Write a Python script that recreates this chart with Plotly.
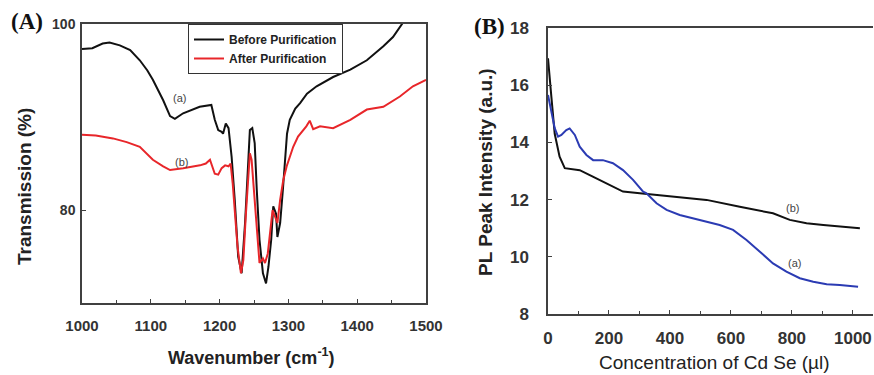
import plotly.graph_objects as go

W, H = 874, 375

# ---------------- Panel A data (FTIR) ----------------
wn_before = [1000, 1015, 1030, 1040, 1055, 1070, 1084, 1095, 1103, 1118, 1128, 1135, 1147, 1160,
             1171, 1188, 1193, 1198, 1203, 1205, 1209, 1213, 1217.5, 1222, 1227, 1232, 1237,
             1242, 1244, 1247.5, 1251, 1254, 1258, 1263, 1267.5, 1271, 1275, 1278, 1282, 1284,
             1288, 1292, 1295, 1298, 1302, 1310, 1317, 1327, 1341, 1365, 1390, 1414, 1438,
             1452, 1467, 1480]
t_before = [97.3, 97.4, 97.9, 98.0, 97.7, 97.2, 96.1, 95.0, 94.0, 91.8, 90.1, 89.8, 90.4, 90.8,
            91.1, 91.3, 89.7, 88.6, 88.4, 88.2, 89.3, 88.8, 85.7, 81.1, 75.0, 73.2, 78.6,
            85.7, 88.6, 88.8, 87.2, 82.2, 76.8, 73.2, 72.1, 73.9, 76.8, 80.4, 79.6, 77.1,
            78.6, 82.2, 85.7, 88.2, 89.7, 90.9, 91.5, 92.5, 93.3, 94.3, 95.1, 96.1, 97.6,
            98.6, 100.2, 101.5]

wn_after = [1000, 1020, 1045, 1065, 1084, 1103, 1118, 1128, 1147, 1171.5, 1180, 1186, 1193,
            1198, 1203, 1208, 1213, 1216, 1219, 1222, 1226, 1231, 1234.5, 1238, 1242, 1244,
            1246.5, 1250, 1254, 1258, 1263, 1266, 1270, 1273, 1277, 1280.5, 1284, 1288,
            1292.5, 1297.5, 1302, 1307, 1314, 1322, 1326, 1331, 1336, 1346, 1365, 1390, 1414,
            1438, 1462, 1481, 1500]
t_after = [88.1, 88.0, 87.7, 87.3, 86.8, 85.4, 84.7, 84.3, 84.5, 84.8, 85.0, 85.4, 83.9,
           83.8, 84.5, 84.8, 84.7, 85.0, 82.9, 79.6, 76.1, 73.2, 74.6, 79.3, 84.3, 86.1,
           85.4, 82.2, 77.8, 74.3, 74.8, 74.3, 75.3, 77.5, 80.0, 79.3, 78.6, 81.1,
           83.2, 84.7, 85.7, 86.8, 87.9, 88.6, 89.0, 89.6, 88.7, 89.0, 88.8, 89.7, 90.8,
           91.1, 92.2, 93.3, 94.0]

# ---------------- Panel B data (PL) ----------------
conc_b = [0, 5, 11, 22, 38, 55, 104, 147, 192, 246, 301, 356, 410, 520, 629, 738, 793, 848,
          903, 957, 1023]
pl_b = [16.94, 16.2, 15.6, 14.3, 13.5, 13.1, 13.03, 12.8, 12.57, 12.28, 12.22, 12.16, 12.12,
        11.99, 11.75, 11.52, 11.29, 11.17, 11.11, 11.05, 11.0]

conc_a = [0, 11, 22, 33, 44, 60, 71, 88, 104, 126, 148, 180, 213, 246, 279, 312, 323, 356,
          389, 432, 498, 563, 607, 651, 695, 738, 782, 826, 870, 914, 957, 1017]
pl_a = [15.66, 15.13, 14.5, 14.2, 14.26, 14.43, 14.49, 14.26, 13.85, 13.56, 13.38, 13.38,
        13.27, 13.03, 12.69, 12.28, 12.22, 11.87, 11.64, 11.46, 11.29, 11.11, 10.94, 10.59,
        10.18, 9.77, 9.48, 9.25, 9.13, 9.04, 9.01, 8.95]

# ---------------- figure ----------------
def px_x(p):
    return p / W

def px_y(p):
    return 1 - p / H

BLACK = "#111111"
RED = "#e8262a"
BLUE = "#2b3bb3"
AX = "#404040"
SANS = "Liberation Sans, Arial, sans-serif"
SERIF = "Liberation Serif, Times New Roman, serif"

fig = go.Figure()
fig.add_trace(go.Scatter(x=wn_before, y=t_before, mode="lines", name="Before Purification",
                         line=dict(color=BLACK, width=2), xaxis="x", yaxis="y"))
fig.add_trace(go.Scatter(x=wn_after, y=t_after, mode="lines", name="After Purification",
                         line=dict(color=RED, width=2), xaxis="x", yaxis="y"))
fig.add_trace(go.Scatter(x=conc_b, y=pl_b, mode="lines", name="(b)", showlegend=False,
                         line=dict(color=BLACK, width=2), xaxis="x2", yaxis="y2"))
fig.add_trace(go.Scatter(x=conc_a, y=pl_a, mode="lines", name="(a)", showlegend=False,
                         line=dict(color=BLUE, width=2), xaxis="x2", yaxis="y2"))

tickfont_a = dict(family=SANS, size=15, color="#333333", weight="bold")
tickfont_b = dict(family="Liberation Sans Narrow, Arial Narrow, " + SANS, size=17,
                  color="#333333", weight="bold")

fig.update_layout(
    width=W, height=H,
    margin=dict(l=0, r=0, t=0, b=0),
    paper_bgcolor="white", plot_bgcolor="white",
    xaxis=dict(domain=[px_x(82), px_x(426)], range=[1000, 1500], anchor="y",
               tickmode="linear", tick0=1000, dtick=100, ticks="inside", ticklen=4,
               tickcolor=AX, minor=dict(ticks="inside", dtick=50, ticklen=3, tickcolor=AX),
               showline=True, linecolor=AX, linewidth=1.5, mirror=True, showgrid=False,
               zeroline=False, tickfont=tickfont_a, ticklabelstandoff=8, automargin=False),
    yaxis=dict(domain=[px_y(303), px_y(24)], range=[70, 100], anchor="x",
               tickvals=[80, 100], ticktext=["80", "100"], ticks="inside", ticklen=4,
               tickcolor=AX, showline=True, linecolor=AX, linewidth=1.5, mirror=True,
               showgrid=False, zeroline=False,
               tickfont=dict(family=SANS, size=14, color="#333333", weight="bold"),
               ticklabelstandoff=2, automargin=False),
    xaxis2=dict(domain=[px_x(548), px_x(873)], range=[0, 1066], anchor="y2",
                tickmode="linear", tick0=0, dtick=200, ticks="inside", ticklen=4,
                tickcolor=AX, minor=dict(ticks="inside", dtick=100, ticklen=3, tickcolor=AX),
                showline=True, linecolor=AX, linewidth=1.5, mirror=True, showgrid=False,
                zeroline=False, tickfont=tickfont_b, ticklabelstandoff=8, automargin=False),
    yaxis2=dict(domain=[px_y(314), px_y(28)], range=[8, 18], anchor="x2",
                tickmode="linear", tick0=8, dtick=2, ticks="inside", ticklen=4,
                tickcolor=AX, showline=True, linecolor=AX, linewidth=1.5, mirror=False,
                showgrid=False, zeroline=False, tickfont=tickfont_b,
                ticklabelstandoff=14, automargin=False),
    legend=dict(x=px_x(188), y=px_y(24), xanchor="left", yanchor="top",
                bgcolor="white", bordercolor="#333333", borderwidth=1,
                font=dict(family=SANS, size=12, color="#222222", weight="bold"),
                itemwidth=30, tracegroupgap=0),
    showlegend=True,
)

annots = [
    # axis titles
    dict(text="Transmission (%)", x=px_x(25), y=px_y(187), textangle=-90,
         font=dict(family=SANS, size=19, color="#222222", weight="bold")),
    dict(text="Wavenumber (cm<sup>-1</sup>)", x=px_x(251), y=px_y(356),
         font=dict(family=SANS, size=18, color="#222222", weight="bold")),
    dict(text="PL Peak Intensity (a.u.)", x=px_x(485), y=px_y(172), textangle=-90,
         font=dict(family=SANS, size=19, color="#222222", weight="bold")),
    dict(text="Concentration of Cd Se (µl)", x=px_x(714), y=px_y(362),
         font=dict(family=SANS, size=19, color="#222222")),
    # panel labels
    dict(text="(A)", x=px_x(27), y=px_y(22),
         font=dict(family=SERIF, size=23, color="#111111", weight="bold")),
    dict(text="(B)", x=px_x(489), y=px_y(26),
         font=dict(family=SERIF, size=23, color="#111111", weight="bold")),
]
for a in annots:
    a.update(xref="paper", yref="paper", showarrow=False, xanchor="center", yanchor="middle")
    fig.add_annotation(**a)

# curve labels in data coordinates
curve_labels = [
    ("(a)", 1142, 92.0, "x", "y"),
    ("(b)", 1145, 85.2, "x", "y"),
    ("(b)", 803, 11.7, "x2", "y2"),
    ("(a)", 809, 9.8, "x2", "y2"),
]
for txt, xv, yv, xr, yr in curve_labels:
    fig.add_annotation(text=txt, x=xv, y=yv, xref=xr, yref=yr, showarrow=False,
                       font=dict(family=SANS, size=11, color="#444444"))

fig.write_html("out.html")
